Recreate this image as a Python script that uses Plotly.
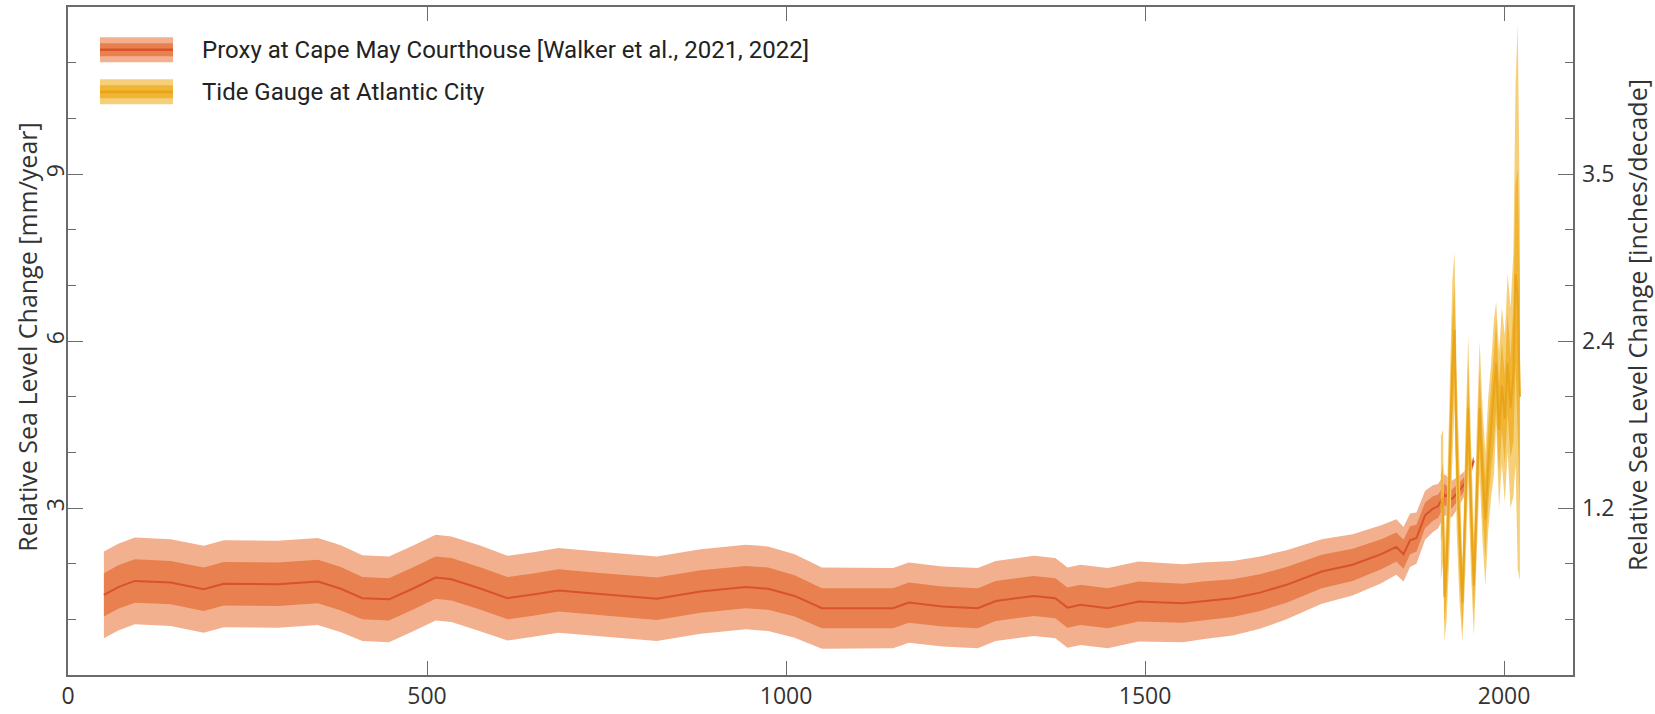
import plotly.graph_objects as go

# ---- Proxy reconstruction, Cape May Courthouse (mm/year) ----
proxy_year = [50, 70, 93, 143, 189, 217, 292, 348, 380, 410, 447, 480, 512, 534, 575,
              612, 650, 683, 745, 820, 881, 944, 975, 1012, 1050, 1100, 1149, 1171,
              1218, 1267, 1292, 1345, 1375, 1392, 1410, 1448, 1491, 1553, 1580, 1622,
              1660, 1697, 1746, 1789, 1829, 1850, 1860, 1869, 1878, 1890, 1901, 1908,
              1917, 1927, 1936, 1945, 1958]
proxy_rate = [1.44, 1.58, 1.69, 1.66, 1.54, 1.64, 1.63, 1.68, 1.55, 1.38, 1.36, 1.55,
              1.75, 1.72, 1.55, 1.38, 1.45, 1.52, 1.45, 1.37, 1.50, 1.58, 1.55, 1.42,
              1.20, 1.20, 1.20, 1.30, 1.23, 1.20, 1.33, 1.42, 1.38, 1.21, 1.26, 1.20,
              1.32, 1.29, 1.33, 1.38, 1.48, 1.62, 1.86, 1.98, 2.17, 2.30, 2.17, 2.42,
              2.46, 2.87, 2.99, 3.03, 3.24, 3.16, 3.28, 3.44, 3.85]
# half-widths of the 1-sigma and 2-sigma envelopes
proxy_sig1 = [0.39, 0.39, 0.39, 0.39, 0.39, 0.39, 0.39, 0.39, 0.39, 0.38, 0.38, 0.38,
              0.38, 0.38, 0.38, 0.38, 0.38, 0.38, 0.38, 0.38, 0.38, 0.38, 0.38, 0.37,
              0.36, 0.36, 0.36, 0.36, 0.36, 0.36, 0.36, 0.36, 0.36, 0.36, 0.36, 0.36,
              0.36, 0.35, 0.35, 0.34, 0.33, 0.32, 0.30, 0.29, 0.27, 0.26, 0.26, 0.25,
              0.24, 0.23, 0.22, 0.21, 0.19, 0.17, 0.15, 0.12, 0.05]
proxy_sig2 = [0.78, 0.78, 0.78, 0.78, 0.78, 0.78, 0.78, 0.78, 0.78, 0.77, 0.77, 0.77,
              0.77, 0.77, 0.77, 0.76, 0.76, 0.76, 0.76, 0.76, 0.76, 0.76, 0.76, 0.75,
              0.73, 0.72, 0.72, 0.72, 0.72, 0.72, 0.72, 0.72, 0.72, 0.72, 0.72, 0.72,
              0.72, 0.70, 0.69, 0.67, 0.65, 0.62, 0.58, 0.55, 0.52, 0.50, 0.49, 0.48,
              0.46, 0.44, 0.42, 0.40, 0.37, 0.33, 0.28, 0.22, 0.08]

# ---- Tide gauge, Atlantic City (mm/year) ----
tg_year = [1912, 1915, 1917, 1920, 1924, 1928, 1931, 1934, 1938, 1942, 1946, 1950,
           1954, 1958, 1962, 1966, 1970, 1974, 1978, 1982, 1986, 1989, 1993, 1997,
           2001, 2005, 2009, 2013, 2016, 2019, 2022]
tg_rate = [3.0, 3.2, 1.4, 2.0, 3.6, 5.5, 6.2, 4.0, 2.5, 1.3, 3.0, 4.8, 3.0, 1.6, 3.2,
           4.8, 3.6, 2.8, 3.8, 4.4, 5.0, 5.6, 4.4, 5.2, 4.6, 5.6, 4.8, 5.4, 7.2, 6.8,
           5.0]
tg_sig1 = [0.6, 0.6, 0.5, 0.6, 0.8, 0.9, 0.8, 0.8, 0.7, 0.5, 0.7, 0.8, 0.7, 0.5, 0.7,
           0.7, 0.7, 0.7, 0.7, 0.7, 0.8, 0.8, 0.8, 0.8, 0.8, 0.9, 0.9, 1.2, 1.6, 2.3,
           2.0]
tg_sig2 = [1.3, 1.2, 0.8, 1.0, 1.4, 1.6, 1.4, 1.4, 1.2, 0.7, 1.2, 1.3, 1.2, 0.9, 1.2,
           1.2, 1.2, 1.2, 1.2, 1.2, 1.4, 1.1, 1.4, 1.4, 1.5, 1.6, 1.8, 2.2, 3.4, 4.9,
           3.3]

# axis layout
x_ticks = [0, 500, 1000, 1500, 2000]
y_ticks_mm = [3, 6, 9]
MM_PER_YR_TO_IN_PER_DECADE = 10 / 25.4
y_ticks_in = [f"{v * MM_PER_YR_TO_IN_PER_DECADE:.1f}" for v in y_ticks_mm]

PROXY_OUTER = "#f2b08f"
PROXY_INNER = "#e8804f"
PROXY_LINE = "#d8532a"
TG_OUTER = "#f6cf7a"
TG_INNER = "#efb533"
TG_LINE = "#e9a41b"
AXIS_COLOR = "#6b6b6b"


def band(x, mid, half):
    upper = [m + h for m, h in zip(mid, half)]
    lower = [m - h for m, h in zip(mid, half)]
    return list(x) + list(x)[::-1], upper + lower[::-1]


fig = go.Figure()
for xs, mid, s1, s2, c_out, c_in, c_line in [
    (proxy_year, proxy_rate, proxy_sig1, proxy_sig2, PROXY_OUTER, PROXY_INNER, PROXY_LINE),
    (tg_year, tg_rate, tg_sig1, tg_sig2, TG_OUTER, TG_INNER, TG_LINE),
]:
    bx, by = band(xs, mid, s2)
    fig.add_trace(go.Scatter(x=bx, y=by, fill="toself", fillcolor=c_out,
                             line=dict(width=0), mode="lines", hoverinfo="skip",
                             showlegend=False))
    bx, by = band(xs, mid, s1)
    fig.add_trace(go.Scatter(x=bx, y=by, fill="toself", fillcolor=c_in,
                             line=dict(width=0), mode="lines", hoverinfo="skip",
                             showlegend=False))
    fig.add_trace(go.Scatter(x=xs, y=mid, mode="lines",
                             line=dict(color=c_line, width=2), showlegend=False))

# invisible trace that activates the right-hand axis
fig.add_trace(go.Scatter(x=[proxy_year[0]], y=[proxy_rate[0]], yaxis="y2",
                         mode="markers", marker=dict(opacity=0), showlegend=False,
                         hoverinfo="skip"))

tick_font = dict(family="Open Sans, sans-serif", size=23, color="#333")
title_font = dict(family="Open Sans, sans-serif", size=25, color="#333")

fig.update_layout(
    width=1655, height=714,
    margin=dict(l=68, r=82, t=7, b=39, autoexpand=False),
    paper_bgcolor="white", plot_bgcolor="white",
    showlegend=False,
    xaxis=dict(range=[0, 2096], tickvals=x_ticks, ticks="inside", ticklen=14,
               tickcolor=AXIS_COLOR, tickwidth=1.3, showline=True,
               linecolor=AXIS_COLOR, linewidth=1.6, mirror="ticks",
               showgrid=False, zeroline=False, tickfont=tick_font),
    yaxis=dict(range=[0, 12], tickvals=y_ticks_mm, ticks="inside", ticklen=15,
               tickcolor=AXIS_COLOR, tickwidth=1.3, showline=True,
               linecolor=AXIS_COLOR, linewidth=1.6, mirror=True,
               tickangle=-90, showgrid=False, zeroline=False, tickfont=tick_font,
               ticklabelstandoff=-7,
               minor=dict(dtick=1, tick0=0, ticks="inside", ticklen=8,
                          tickcolor=AXIS_COLOR, tickwidth=1.3)),
    yaxis2=dict(range=[0, 12], overlaying="y", side="right", tickvals=y_ticks_mm,
                ticktext=y_ticks_in, ticks="inside", ticklen=15,
                tickcolor=AXIS_COLOR, tickwidth=1.3, showline=False,
                showgrid=False, zeroline=False, tickfont=tick_font,
                ticklabelstandoff=8,
                minor=dict(dtick=1, tick0=0, ticks="inside", ticklen=8,
                           tickcolor=AXIS_COLOR, tickwidth=1.3)),
)

# axis titles
fig.add_annotation(text="Relative Sea Level Change [mm/year]", textangle=-90,
                   xref="paper", yref="paper", x=(27 - 68) / 1505, y=0.505,
                   xanchor="center", yanchor="middle", showarrow=False,
                   font=title_font)
fig.add_annotation(text="Relative Sea Level Change [inches/decade]", textangle=-90,
                   xref="paper", yref="paper", x=(1637 - 68) / 1505, y=0.524,
                   xanchor="center", yanchor="middle", showarrow=False,
                   font=title_font)

# legend with three-tone swatches
legend_items = [
    ("Proxy at Cape May Courthouse [Walker et al., 2021, 2022]",
     PROXY_OUTER, PROXY_INNER, PROXY_LINE, 0.936),
    ("Tide Gauge at Atlantic City", TG_OUTER, TG_INNER, TG_LINE, 0.873),
]
sx0, sx1 = (100 - 68) / 1505, (173 - 68) / 1505
for label, c_out, c_in, c_line, yc in legend_items:
    for half, col in [(12.5, c_out), (6.5, c_in), (1.3, c_line)]:
        fig.add_shape(type="rect", xref="paper", yref="paper",
                      x0=sx0, x1=sx1, y0=yc - half / 668, y1=yc + half / 668,
                      fillcolor=col, line=dict(width=0), layer="above")
    fig.add_annotation(text=label, xref="paper", yref="paper",
                       x=(200 - 68) / 1505, y=yc, xanchor="left", yanchor="middle",
                       showarrow=False,
                       font=dict(family="Liberation Sans Narrow, Roboto, sans-serif",
                                 size=24, color="#222"))

fig.write_html("out.html")
